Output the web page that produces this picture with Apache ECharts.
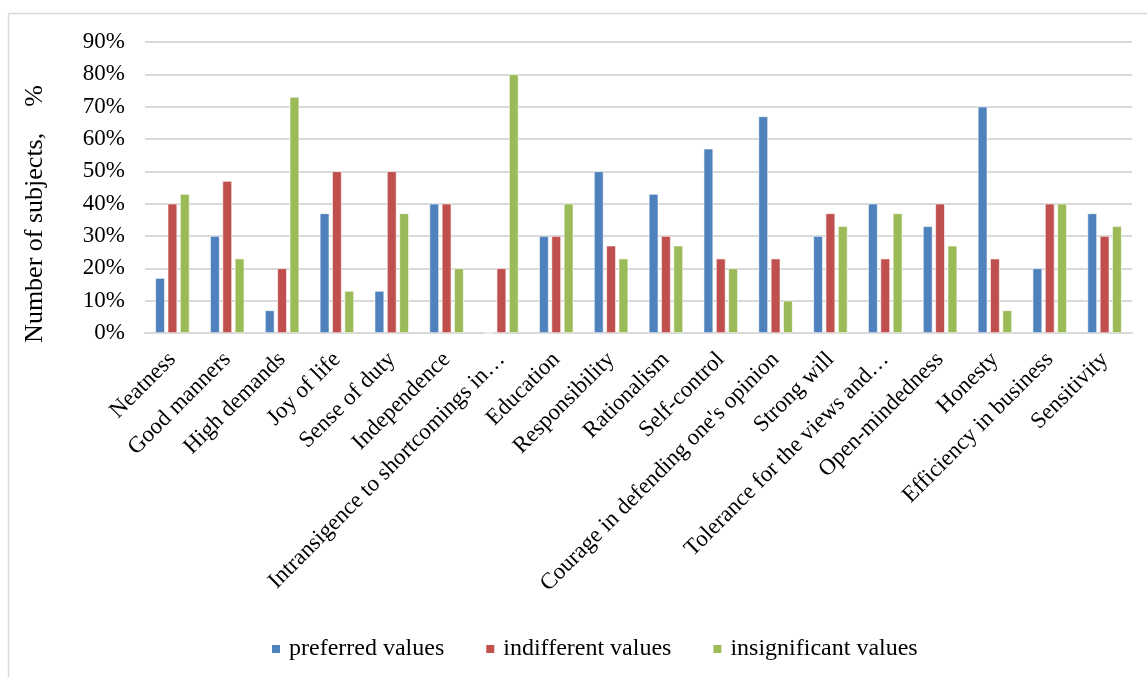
<!DOCTYPE html>
<html>
<head>
<meta charset="utf-8">
<script src="https://cdn.jsdelivr.net/npm/echarts@6/dist/echarts.min.js"></script>
<style>
  html, body { margin: 0; padding: 0; background: #fff; }
  #main { width: 1147px; height: 677px; }
</style>
</head>
<body>
<div id="main"></div>
<script>
var categories = ['Neatness', 'Good manners', 'High demands', 'Joy of life', 'Sense of duty',
    'Independence', 'Intransigence to shortcomings in\u2026', 'Education', 'Responsibility',
    'Rationalism', 'Self-control', "Courage in defending one's opinion", 'Strong will',
    'Tolerance for the views and\u2026', 'Open-mindedness', 'Honesty', 'Efficiency in business',
    'Sensitivity'];
var preferred     = [17, 30, 7, 37, 13, 40, 0, 30, 50, 43, 57, 67, 30, 40, 33, 70, 20, 37];
var indifferent   = [40, 47, 20, 50, 50, 40, 20, 30, 27, 30, 23, 23, 37, 23, 40, 23, 40, 30];
var insignificant = [43, 23, 73, 13, 37, 20, 80, 40, 23, 27, 20, 10, 33, 37, 27, 7, 40, 33];
var seriesNames = ['preferred values', 'indifferent values', 'insignificant values'];
var colors = ['#4F81BD', '#C0504D', '#9BBB59'];

var font = '"Liberation Serif", "Times New Roman", serif';

function bar(name, data, color) {
    return {
        name: name,
        type: 'bar',
        data: data,
        barWidth: 9.5,
        barGap: '30%',
        itemStyle: { color: color, borderColor: '#fff', borderWidth: 0.6 }
    };
}

var chart = echarts.init(document.getElementById('main'));
chart.setOption({
    animation: false,
    textStyle: { fontFamily: font, color: '#000' },
    grid: { left: 145, right: 15, top: 42, bottom: 344 },
    legend: {
        data: seriesNames,
        bottom: 11,
        left: 265,
        itemWidth: 10,
        itemHeight: 10,
        itemGap: 40,
        icon: 'rect',
        textStyle: { fontFamily: font, fontSize: 24, color: '#000', padding: [0, 0, 0, 3] }
    },
    xAxis: {
        type: 'category',
        data: categories,
        axisLine: { lineStyle: { color: '#d9d9d9', width: 2 } },
        axisTick: { show: false },
        axisLabel: {
            interval: 0,
            rotate: 45,
            margin: 23,
            fontFamily: font,
            fontSize: 23,
            color: '#000'
        }
    },
    yAxis: {
        type: 'value',
        min: 0,
        max: 90,
        interval: 10,
        axisLine: { show: false },
        axisTick: { show: false },
        splitLine: { lineStyle: { color: '#d9d9d9', width: 2 } },
        axisLabel: {
            formatter: '{value}%',
            margin: 20,
            fontFamily: font,
            fontSize: 23,
            color: '#000'
        }
    },
    graphic: [
        { type: 'line', shape: { x1: 8.5, y1: 13.5, x2: 1147, y2: 13.5 }, style: { stroke: '#d9d9d9', lineWidth: 1.5 } },
        { type: 'line', shape: { x1: 8.5, y1: 13.5, x2: 8.5, y2: 677 }, style: { stroke: '#d9d9d9', lineWidth: 1.5 } },
        {
            type: 'text',
            x: 35,
            y: 214,
            rotation: Math.PI / 2,
            style: {
                text: 'Number of subjects,    %',
                font: '26px ' + font,
                fill: '#000',
                textAlign: 'center',
                textVerticalAlign: 'middle'
            }
        }
    ],
    series: [
        bar(seriesNames[0], preferred, colors[0]),
        bar(seriesNames[1], indifferent, colors[1]),
        bar(seriesNames[2], insignificant, colors[2])
    ]
});
</script>
</body>
</html>
